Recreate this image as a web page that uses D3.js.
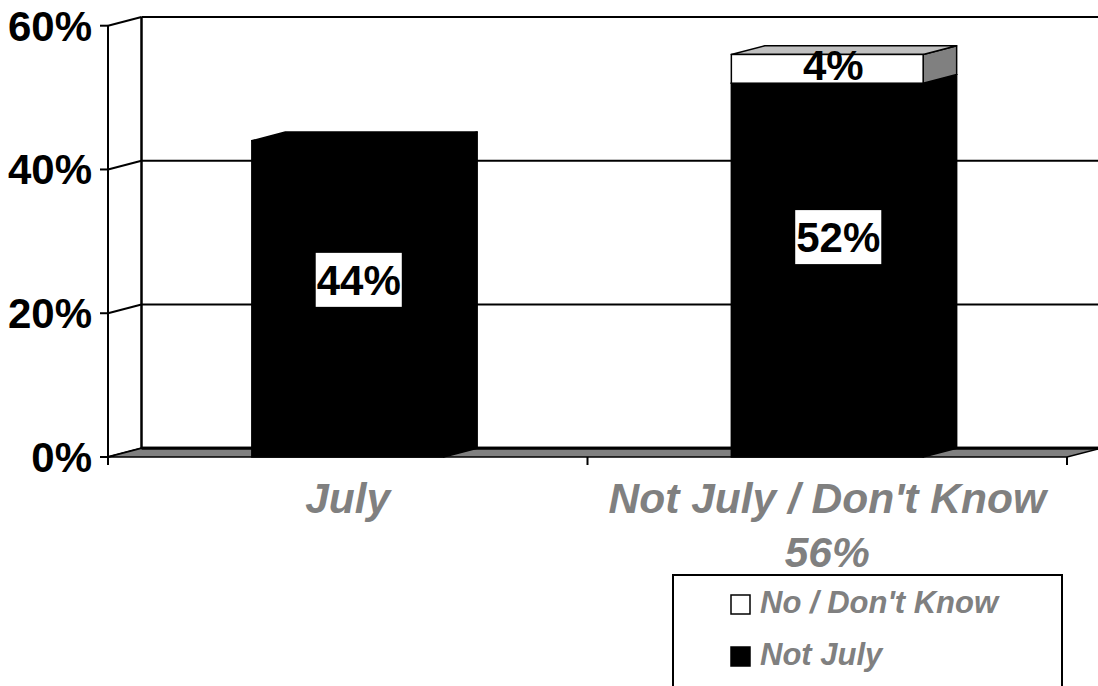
<!DOCTYPE html>
<html>
<head>
<meta charset="utf-8">
<script src="https://cdn.jsdelivr.net/npm/d3@7/dist/d3.min.js"></script>
<style>
  html, body { margin: 0; padding: 0; background: #fff; }
  svg { display: block; }
  text { font-family: "Liberation Sans", Arial, sans-serif; font-weight: bold; }
</style>
</head>
<body>
<svg id="chart" width="1098" height="686"></svg>
<script>
// ---- data ----
const categories = ["July", "Not July / Don't Know"];
const categorySubLabels = ["", "56%"];
const seriesNames = ["No / Don't Know", "Not July"];
const notJulyValues = [44, 52];   // black segment
const noDontKnowValues = [0, 4];  // white segment
const yTickValues = [0, 20, 40, 60];
const yTickLabels = ["0%", "20%", "40%", "60%"];

// ---- layout ----
const svg = d3.select("#chart");
const DX = 33.5, DY = -8.7;
const x = d3.scaleBand().domain(categories).range([108, 1067]).padding(0);
const y = d3.scaleLinear().domain([0, 60]).range([457, 25.7]);
const barFrac = 0.4;
const bw = x.bandwidth() * barFrac;
const barX = c => x(c) + x.bandwidth() / 2 - bw / 2;

const x0 = x.range()[0], x1 = x.range()[1];
const pts = p => p.map(d => d.join(",")).join(" ");

// back wall
svg.append("rect")
  .attr("x", x0 + DX).attr("y", y(60) + DY)
  .attr("width", x1 - x0).attr("height", y(0) - y(60))
  .attr("fill", "#fff").attr("stroke", "none");

// gridlines on back wall + side wall
yTickValues.forEach(v => {
  svg.append("line")
    .attr("x1", x0 + DX).attr("x2", x1 + DX)
    .attr("y1", y(v) + DY).attr("y2", y(v) + DY)
    .attr("stroke", "#000").attr("stroke-width", v === 0 ? 3 : 2);
  svg.append("line")
    .attr("x1", x0).attr("y1", y(v))
    .attr("x2", x0 + DX).attr("y2", y(v) + DY)
    .attr("stroke", "#000").attr("stroke-width", 2);
});
// back wall left edge
svg.append("line")
  .attr("x1", x0 + DX).attr("x2", x0 + DX)
  .attr("y1", y(60) + DY).attr("y2", y(0) + DY)
  .attr("stroke", "#000").attr("stroke-width", 2.5);

// floor
svg.append("polygon")
  .attr("points", pts([[x0, y(0)], [x1, y(0)], [x1 + DX, y(0) + DY], [x0 + DX, y(0) + DY]]))
  .attr("fill", "#808080").attr("stroke", "#000").attr("stroke-width", 1.5)
  .attr("stroke-linejoin", "round");
svg.append("line")
  .attr("x1", x0 + DX).attr("x2", x1 + DX)
  .attr("y1", y(0) + DY).attr("y2", y(0) + DY)
  .attr("stroke", "#000").attr("stroke-width", 3);

// bars
function box3d(xl, v0, v1, front, top, side) {
  const xr = xl + bw;
  const yt = y(v1), yb = y(v0);
  const g = svg.append("g");
  g.append("polygon")
    .attr("points", pts([[xr, yt], [xr + DX, yt + DY], [xr + DX, yb + DY], [xr, yb]]))
    .attr("fill", side).attr("stroke", "#000").attr("stroke-width", 1.5).attr("stroke-linejoin", "round");
  g.append("polygon")
    .attr("points", pts([[xl, yt], [xl + DX, yt + DY], [xr + DX, yt + DY], [xr, yt]]))
    .attr("fill", top).attr("stroke", "#000").attr("stroke-width", 1.5).attr("stroke-linejoin", "round");
  g.append("rect")
    .attr("x", xl).attr("y", yt).attr("width", bw).attr("height", yb - yt)
    .attr("fill", front).attr("stroke", "#000").attr("stroke-width", 1.5);
}
categories.forEach((c, i) => {
  const xl = barX(c);
  const b = notJulyValues[i], w = noDontKnowValues[i];
  box3d(xl, 0, b, "#000", "#000", "#000");
  if (w > 0) box3d(xl, b, b + w, "#fff", "#c0c0c0", "#808080");
});

// front axis
svg.append("line")
  .attr("x1", x0).attr("x2", x0).attr("y1", y(60)).attr("y2", y(0) + 8)
  .attr("stroke", "#000").attr("stroke-width", 2);
yTickValues.forEach((v, i) => {
  svg.append("line")
    .attr("x1", x0 - 8).attr("x2", x0).attr("y1", y(v)).attr("y2", y(v))
    .attr("stroke", "#000").attr("stroke-width", 2);
  svg.append("text")
    .attr("x", 92).attr("y", y(v) + 15)
    .attr("text-anchor", "end").attr("font-size", 42).attr("fill", "#000")
    .text(yTickLabels[i]);
});
// category ticks
[x0, ...categories.slice(1).map(c => x(c)), x1].forEach(t => {
  svg.append("line")
    .attr("x1", t).attr("x2", t).attr("y1", y(0)).attr("y2", y(0) + 8)
    .attr("stroke", "#000").attr("stroke-width", 2);
});

// category labels
categories.forEach((c, i) => {
  const cx = x(c) + x.bandwidth() / 2;
  svg.append("text")
    .attr("x", cx).attr("y", 513)
    .attr("text-anchor", "middle").attr("font-size", 42.5).attr("font-style", "italic")
    .attr("fill", "#808080").text(c);
  if (categorySubLabels[i]) {
    svg.append("text")
      .attr("x", cx).attr("y", 567)
      .attr("text-anchor", "middle").attr("font-size", 42.5).attr("font-style", "italic")
      .attr("fill", "#808080").text(categorySubLabels[i]);
  }
});

// data labels
const labelDy = [-19, -33];
categories.forEach((c, i) => {
  const cx = x(c) + x.bandwidth() / 2 + 11;
  const cy = y(notJulyValues[i] / 2) + labelDy[i];
  const g = svg.append("g");
  const r = g.append("rect").attr("fill", "#fff");
  const t = g.append("text")
    .attr("x", cx).attr("y", cy + 15)
    .attr("text-anchor", "middle").attr("font-size", 42).attr("fill", "#000")
    .text(notJulyValues[i] + "%");
  const bb = t.node().getBBox();
  r.attr("x", bb.x - 1).attr("y", cy - 27).attr("width", bb.width + 2).attr("height", 54);
  const w = noDontKnowValues[i];
  if (w > 0) {
    svg.append("text")
      .attr("x", x(c) + x.bandwidth() / 2 + 6)
      .attr("y", y(notJulyValues[i] + w / 2) + 11)
      .attr("text-anchor", "middle").attr("font-size", 42).attr("fill", "#000")
      .text(w + "%");
  }
});

// legend
svg.append("rect")
  .attr("x", 673).attr("y", 575).attr("width", 389).attr("height", 140)
  .attr("fill", "#fff").attr("stroke", "#000").attr("stroke-width", 2);
const legendFills = ["#fff", "#000"];
seriesNames.forEach((s, i) => {
  const ly = 595 + i * 52;
  svg.append("rect")
    .attr("x", 731).attr("y", ly).attr("width", 19).attr("height", 19)
    .attr("fill", legendFills[i]).attr("stroke", "#000").attr("stroke-width", 1.5);
  svg.append("text")
    .attr("x", 760).attr("y", ly + 18)
    .attr("font-size", 31).attr("font-style", "italic").attr("fill", "#808080")
    .text(s);
});
</script>
</body>
</html>
